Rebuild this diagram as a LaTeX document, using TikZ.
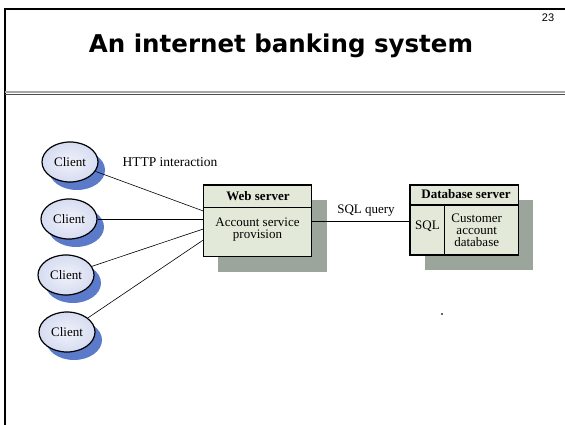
\documentclass[tikz,border=0pt]{standalone}
\usepackage{fontspec}
\setmainfont{Liberation Serif}
\newfontfamily\titlefont{DejaVu Sans}
\newfontfamily\numfont{Liberation Sans}
\usetikzlibrary{shapes.geometric}
\definecolor{clientfill}{HTML}{D6DCF1}
\definecolor{clientin}{HTML}{F0F2FA}
\definecolor{clientshadow}{HTML}{5B7AC9}
\definecolor{boxfill}{HTML}{E3E9D9}
\definecolor{boxshadow}{HTML}{9BA59B}
\tikzset{
  client/.style={ellipse, draw=black, line width=1.2pt, minimum width=56pt, minimum height=40pt, inner sep=0pt, inner color=clientin, outer color=clientfill, font=\fontsize{13}{13}\selectfont},
  cshadow/.style={ellipse, fill=clientshadow, minimum width=56pt, minimum height=40pt, inner sep=0pt},
  srvbox/.style={draw=black, line width=1.2pt, fill=boxfill, inner sep=0pt},
  lbl/.style={font=\fontsize{13}{12.5}\selectfont, align=center, inner sep=0pt},
  conn/.style={draw=black, line width=0.6pt}
}
\begin{document}
\begin{tikzpicture}[x=1pt,y=-1pt]
\useasboundingbox (0,0) rectangle (565,425);
% frame
\draw[line width=2.5pt] (4,9) -- (565,9);
\draw[line width=2.5pt] (5,8) -- (5,425);
\draw[gray!70, line width=2pt] (5,92) -- (565,92);
\draw[black!70, line width=1.4pt] (5,94.6) -- (565,94.6);
\node[font=\titlefont\bfseries\fontsize{24.5}{28}\selectfont, inner sep=0pt] (title) at (281,46) {An internet banking system};
\node[font=\numfont\fontsize{11}{12}\selectfont, inner sep=0pt] (num) at (548,18) {23};
% client shadows
\node[cshadow] (s1) at (77,170) {};
\node[cshadow] (s2) at (76,227) {};
\node[cshadow] (s3) at (73,283) {};
\node[cshadow] (s4) at (74,340) {};
% clients
\node[client] (c1) at (70,162) {Client};
\node[client] (c2) at (69,219) {Client};
\node[client] (c3) at (66,275) {Client};
\node[client] (c4) at (67,332) {Client};
% box shadows
\fill[boxshadow] (218.3,200) rectangle (326.7,271.7);
\fill[boxshadow] (425,200) rectangle (533.3,270);
% web server
\node[srvbox, minimum width=108.4pt, minimum height=71.7pt] (web) at (257.5,220.85) {};
\draw[line width=1.2pt] (web.west |- 0,207.3) -- (web.east |- 0,207.3);
\node[lbl, font=\bfseries\fontsize{13}{13}\selectfont] (webt) at (258,195.7) {Web server};
\node[lbl] (webb) at (257.5,229.5) {Account service\\provision};
% database server
\node[srvbox, minimum width=108.3pt, minimum height=70pt] (db) at (464.15,220) {};
\draw[line width=1.2pt] (db.west |- 0,205) -- (db.east |- 0,205);
\draw[line width=1.2pt] (444.3,205) -- (444.3,255);
\node[lbl, font=\bfseries\fontsize{13}{13}\selectfont] (dbt) at (466,194.3) {Database server};
\node[lbl] (sql) at (427.5,226.7) {SQL};
\node[lbl, font=\fontsize{13}{12.2}\selectfont] (cad) at (476.7,230.5) {Customer\\account\\database};
% connectors
\coordinate (w1) at (203.3,211);
\coordinate (w2) at (203.3,219);
\coordinate (w3) at (203.3,229);
\coordinate (w4) at (203.3,240);
\draw[conn] (c1) -- (w1);
\draw[conn] (c2) -- (w2);
\draw[conn] (c3) -- (w3);
\draw[conn] (c4) -- (w4);
\coordinate (q1) at (311.7,221.7);
\coordinate (q2) at (410,221.7);
\draw[conn] (q1) -- (q2);
\node[lbl, font=\fontsize{13.5}{13.5}\selectfont] (http) at (170,162.5) {HTTP interaction};
\node[lbl] (sqlq) at (366,211) {SQL query};
\fill[black!60] (441,313) rectangle (442.5,314.5);
\end{tikzpicture}
\end{document}
